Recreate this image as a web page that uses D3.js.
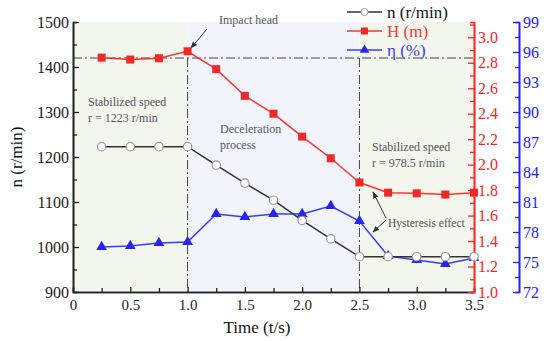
<!DOCTYPE html>
<html>
<head>
<meta charset="utf-8">
<script src="https://cdn.jsdelivr.net/npm/d3@7/dist/d3.min.js"></script>
<style>
  body { margin: 0; background: #fff; }
</style>
</head>
<body>
<div id="chart"></div>
<script>
// data
var times = [0.25, 0.5, 0.75, 1.0, 1.25, 1.5, 1.75, 2.0, 2.25, 2.5, 2.75, 3.0, 3.25, 3.5];
var speedN = [1223, 1223, 1223, 1223, 1182, 1142, 1104, 1059, 1018, 978.5, 978.5, 978.5, 978.5, 978.5];
var headH = [2.84, 2.825, 2.835, 2.89, 2.75, 2.54, 2.40, 2.22, 2.05, 1.86, 1.78, 1.775, 1.765, 1.78];
var effEta = [76.5, 76.6, 76.9, 77.0, 79.8, 79.5, 79.8, 79.8, 80.6, 79.1, 75.6, 75.2, 74.8, 75.4];

var xTicks = [0, 0.5, 1.0, 1.5, 2.0, 2.5, 3.0, 3.5];
var nTicks = [900, 1000, 1100, 1200, 1300, 1400, 1500];
var hTicks = [1.0, 1.2, 1.4, 1.6, 1.8, 2.0, 2.2, 2.4, 2.6, 2.8, 3.0];
var etaTicks = [72, 75, 78, 81, 84, 87, 90, 93, 96, 99];

// phases of the run (time)
var phases = [
  {from: 0, to: 1.0, color: "#f3f6ed"},
  {from: 1.0, to: 2.5, color: "#f1f5fb"},
  {from: 2.5, to: 3.5, color: "#f3f6ed"}
];
var refN = 1420;          // dash-dot level line
var refTimes = [1.0, 2.5];

var FONT = "Liberation Serif";

var svgWidth = 550;
var svgHeight = 341;
var margin = {top: 22, right: 76, bottom: 49, left: 73};
var width = svgWidth - margin.left - margin.right;
var height = svgHeight - margin.top - margin.bottom;

var svg = d3.select("#chart").append("svg")
  .attr("width", svgWidth)
  .attr("height", svgHeight);

var defs = svg.append("defs");
defs.append("marker")
  .attr("id", "arr")
  .attr("viewBox", "0 0 10 10")
  .attr("refX", 9).attr("refY", 5)
  .attr("markerWidth", 7).attr("markerHeight", 7)
  .attr("orient", "auto")
  .append("path")
  .attr("d", "M0,1 L10,5 L0,9 z")
  .attr("fill", "#333");

var g = svg.append("g")
  .attr("transform", `translate(${margin.left}, ${margin.top})`);

// scales
var x = d3.scaleLinear().domain([0, 3.5]).range([0, width]);
var yN = d3.scaleLinear().domain([900, 1500]).range([height, 0]);
var yH = d3.scaleLinear().domain([1.0, 3.12]).range([height, 0]);
var yE = d3.scaleLinear().domain([72, 99]).range([height, 0]);

// background bands
g.selectAll("rect.band")
  .data(phases)
  .enter()
  .append("rect")
  .attr("class", "band")
  .attr("x", d => x(d.from))
  .attr("width", d => x(d.to) - x(d.from))
  .attr("y", 0)
  .attr("height", height)
  .attr("fill", d => d.color);

// dash-dot guide lines
var dashDot = "9,3,2,3";
g.append("line")
  .attr("x1", 0).attr("x2", width)
  .attr("y1", yN(refN)).attr("y2", yN(refN))
  .attr("stroke", "#444").attr("stroke-width", 1)
  .attr("stroke-dasharray", dashDot);
g.selectAll("line.vref")
  .data(refTimes)
  .enter()
  .append("line")
  .attr("class", "vref")
  .attr("x1", d => x(d)).attr("x2", d => x(d))
  .attr("y1", yN(refN)).attr("y2", height)
  .attr("stroke", "#444").attr("stroke-width", 1)
  .attr("stroke-dasharray", dashDot);

// axes helper: major + minor ticks
function styleAxis(sel, color, size) {
  sel.attr("font-family", null).attr("font-size", null);
  sel.select(".domain").attr("stroke", color).attr("stroke-width", 1.6);
  sel.selectAll(".tick line").attr("stroke", color).attr("stroke-width", 1.3);
  sel.selectAll(".tick text")
    .attr("fill", color)
    .style("font-family", FONT)
    .style("font-size", (size || 16) + "px");
}

// x axis
var xMinor = g.append("g")
  .attr("transform", `translate(0, ${height})`)
  .call(d3.axisTop(x).tickValues(d3.range(0.25, 3.5, 0.5)).tickSize(4).tickFormat(""));
styleAxis(xMinor, "#222");
var xAxis = g.append("g")
  .attr("transform", `translate(0, ${height})`)
  .call(d3.axisBottom(x).tickValues(xTicks).tickSizeInner(-5).tickSizeOuter(0)
    .tickPadding(7).tickFormat(d => d === 0 ? "0" : d3.format(".1f")(d)));
styleAxis(xAxis, "#222", 15);

// left n axis
var nMinor = g.append("g")
  .call(d3.axisRight(yN).tickValues(d3.range(950, 1500, 100)).tickSize(4).tickFormat(""));
styleAxis(nMinor, "#222");
var nAxis = g.append("g")
  .call(d3.axisLeft(yN).tickValues(nTicks).tickSizeInner(-6).tickSizeOuter(0)
    .tickPadding(4).tickFormat(d3.format("d")));
styleAxis(nAxis, "#222", 16);

// red H axis
var hMinor = g.append("g")
  .attr("transform", `translate(${width}, 0)`)
  .call(d3.axisLeft(yH).tickValues(d3.range(1.1, 3.12, 0.2)).tickSize(4).tickFormat(""));
styleAxis(hMinor, "#f22");
var hAxis = g.append("g")
  .attr("transform", `translate(${width}, 0)`)
  .call(d3.axisRight(yH).tickValues(hTicks).tickSizeInner(-6).tickSizeOuter(0)
    .tickPadding(4).tickFormat(d3.format(".1f")));
styleAxis(hAxis, "#f22", 16);

// blue eta axis
var eX = width + 45;
var eMinor = g.append("g")
  .attr("transform", `translate(${eX}, 0)`)
  .call(d3.axisLeft(yE).tickValues(d3.range(73.5, 99, 3)).tickSize(4).tickFormat(""));
styleAxis(eMinor, "#22f");
var eAxis = g.append("g")
  .attr("transform", `translate(${eX}, 0)`)
  .call(d3.axisRight(yE).tickValues(etaTicks).tickSizeInner(-6).tickSizeOuter(0).tickPadding(4));
styleAxis(eAxis, "#22f", 16);

// series
var rowsN = times.map((t, i) => ({t: t, v: speedN[i]}));
var rowsH = times.map((t, i) => ({t: t, v: headH[i]}));
var rowsE = times.map((t, i) => ({t: t, v: effEta[i]}));

g.append("path")
  .datum(rowsE)
  .attr("fill", "none").attr("stroke", "#3a3aff").attr("stroke-width", 1.5)
  .attr("d", d3.line().x(d => x(d.t)).y(d => yE(d.v)));
g.append("path")
  .datum(rowsN)
  .attr("fill", "none").attr("stroke", "#333").attr("stroke-width", 1.5)
  .attr("d", d3.line().x(d => x(d.t)).y(d => yN(d.v)));
g.append("path")
  .datum(rowsH)
  .attr("fill", "none").attr("stroke", "#f33").attr("stroke-width", 1.5)
  .attr("d", d3.line().x(d => x(d.t)).y(d => yH(d.v)));

var tri = d3.symbol().type(d3.symbolTriangle).size(50);
g.selectAll("path.eta")
  .data(rowsE)
  .enter()
  .append("path")
  .attr("class", "eta")
  .attr("transform", d => `translate(${x(d.t)}, ${yE(d.v)})`)
  .attr("d", tri)
  .attr("fill", "#2626f0");

g.selectAll("circle.n")
  .data(rowsN)
  .enter()
  .append("circle")
  .attr("class", "n")
  .attr("cx", d => x(d.t))
  .attr("cy", d => yN(d.v))
  .attr("r", 4.2)
  .attr("fill", "#fff")
  .attr("stroke", "#999")
  .attr("stroke-width", 1.2);

g.selectAll("rect.h")
  .data(rowsH)
  .enter()
  .append("rect")
  .attr("class", "h")
  .attr("x", d => x(d.t) - 4)
  .attr("y", d => yH(d.v) - 4)
  .attr("width", 8).attr("height", 8)
  .attr("fill", "#f02828");

// annotations
function note(xp, yp, lines, size) {
  var t = svg.append("text").attr("x", xp).attr("y", yp)
    .style("font-family", FONT).style("font-size", (size || 12) + "px").attr("fill", "#555");
  lines.forEach(function(s, i) {
    t.append("tspan").attr("x", xp).attr("dy", i === 0 ? 0 : 15.5).text(s);
  });
}
note(219, 24, ["Impact head"]);
note(88, 106, ["Stabilized speed", "r = 1223 r/min"]);
note(220, 133, ["Deceleration", "process"]);
note(372, 151, ["Stabilized speed", "r = 978.5 r/min"]);
note(388, 227, ["Hysteresis effect"], 11.5);

function arrow(x1, y1, x2, y2) {
  svg.append("line")
    .attr("x1", x1).attr("y1", y1).attr("x2", x2).attr("y2", y2)
    .attr("stroke", "#333").attr("stroke-width", 1)
    .attr("marker-end", "url(#arr)");
}
arrow(207, 29, 191, 48);
arrow(386, 218, 373, 192);
arrow(386, 220, 373, 232);

// axis titles
svg.append("text")
  .attr("transform", `translate(22, ${margin.top + height / 2}) rotate(-90)`)
  .attr("text-anchor", "middle")
  .style("font-family", FONT)
  .style("font-size", "17px")
  .attr("fill", "#111")
  .text("n (r/min)");
svg.append("text")
  .attr("x", 257).attr("y", 333)
  .attr("text-anchor", "middle")
  .style("font-family", FONT)
  .style("font-size", "17px")
  .attr("fill", "#111")
  .text("Time (t/s)");

// legend
var legend = [
  {label: "n (r/min)", color: "#333", mark: "circle"},
  {label: "H (m)", color: "#f33", mark: "square"},
  {label: "η  (%)", color: "#3a3aff", mark: "triangle"}
];
var lg = svg.selectAll("g.leg")
  .data(legend)
  .enter()
  .append("g")
  .attr("class", "leg")
  .attr("transform", (d, i) => `translate(347, ${12 + i * 19})`);
lg.append("line")
  .attr("x1", 0).attr("x2", 35).attr("y1", 0).attr("y2", 0)
  .attr("stroke", d => d.color).attr("stroke-width", 1.5);
lg.each(function(d) {
  var s = d3.select(this);
  if (d.mark === "circle") {
    s.append("circle").attr("cx", 17.5).attr("cy", 0).attr("r", 3.5)
      .attr("fill", "#fff").attr("stroke", "#999");
  } else if (d.mark === "square") {
    s.append("rect").attr("x", 14).attr("y", -3.5).attr("width", 7).attr("height", 7)
      .attr("fill", "#f02828");
  } else {
    s.append("path").attr("transform", "translate(17.5,0)")
      .attr("d", d3.symbol().type(d3.symbolTriangle).size(40)).attr("fill", "#2626f0");
  }
});
lg.append("text")
  .attr("x", 40).attr("y", 0).attr("dy", "0.35em")
  .style("font-family", FONT)
  .style("font-size", "17px")
  .attr("fill", d => d.color === "#333" ? "#111" : d.color)
  .text(d => d.label);
</script>
</body>
</html>
